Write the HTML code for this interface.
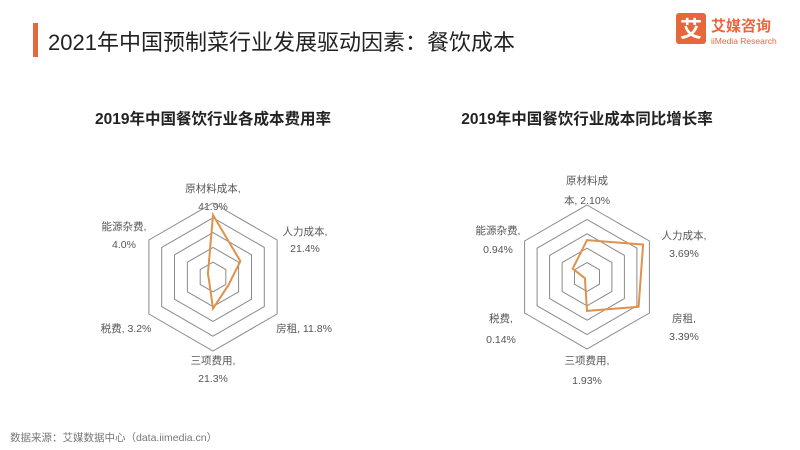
<!DOCTYPE html>
<html><head><meta charset="utf-8"><style>
html,body{margin:0;padding:0;background:#fff;}
body{width:800px;height:450px;overflow:hidden;position:relative;font-family:"Liberation Sans","Noto Sans CJK SC",sans-serif;}
</style></head><body>
<svg id="s" width="800" height="450" xmlns="http://www.w3.org/2000/svg" style="position:absolute;left:0;top:0">
<rect x="33" y="23" width="5" height="34" fill="#e8673a"/>
<text x="48" y="50" font-size="22" fill="#222" font-family="Liberation Sans,Noto Sans CJK SC,sans-serif">2021年中国预制菜行业发展驱动因素：餐饮成本</text>
<rect x="676" y="13" width="30" height="31" rx="3" fill="#e8673a"/>
<text x="691" y="37" font-size="22" font-weight="bold" fill="#fff" text-anchor="middle" font-family="Noto Sans CJK SC,sans-serif">艾</text>
<text x="711" y="31" font-size="15" font-weight="bold" fill="#e8673a" font-family="Noto Sans CJK SC,sans-serif">艾媒咨询</text>
<text x="711" y="44" font-size="8.5" fill="#e8673a" font-family="Liberation Sans,sans-serif">iiMedia Research</text>
<text x="213" y="124" font-size="15.5" font-weight="bold" fill="#222" text-anchor="middle" font-family="Liberation Sans,Noto Sans CJK SC,sans-serif">2019年中国餐饮行业各成本费用率</text>
<text x="587" y="124" font-size="15.5" font-weight="bold" fill="#222" text-anchor="middle" font-family="Liberation Sans,Noto Sans CJK SC,sans-serif">2019年中国餐饮行业成本同比增长率</text>
<g id="g" font-size="10.5" fill="#555" text-anchor="middle" font-family="Liberation Sans,Noto Sans CJK SC,sans-serif">
<text x="213" y="192">原材料成本,</text><text x="213" y="210">41.9%</text>
<text x="305" y="235">人力成本,</text><text x="305" y="252">21.4%</text>
<text x="304" y="332">房租, 11.8%</text>
<text x="213" y="364">三项费用,</text><text x="213" y="382">21.3%</text>
<text x="126" y="332">税费, 3.2%</text>
<text x="124" y="230">能源杂费,</text><text x="124" y="248">4.0%</text>
<text x="587" y="184">原材料成</text><text x="587" y="204">本, 2.10%</text>
<text x="684" y="239">人力成本,</text><text x="684" y="257">3.69%</text>
<text x="684" y="322">房租,</text><text x="684" y="340">3.39%</text>
<text x="587" y="364">三项费用,</text><text x="587" y="384">1.93%</text>
<text x="501" y="322">税费,</text><text x="501" y="343">0.14%</text>
<text x="498" y="234">能源杂费,</text><text x="498" y="253">0.94%</text>
</g>
<text x="10" y="441" font-size="10.5" fill="#777" font-family="Liberation Sans,Noto Sans CJK SC,sans-serif">数据来源：艾媒数据中心（data.iimedia.cn）</text>
</svg>
<script>
var s=document.getElementById('s'),NS='http://www.w3.org/2000/svg';
var dirs=[[0,-1],[0.866,-0.5],[0.866,0.5],[0,1],[-0.866,0.5],[-0.866,-0.5]];
function radar(cx,cy,R,max,vals){
 for(var k=1;k<=5;k++){var r=R*k/5,p=dirs.map(function(d){return (cx+d[0]*r).toFixed(1)+','+(cy+d[1]*r).toFixed(1)}).join(' ');
  var e=document.createElementNS(NS,'polygon');e.setAttribute('points',p);e.setAttribute('fill','none');e.setAttribute('stroke','#8a8a8a');e.setAttribute('stroke-width','1');s.appendChild(e);}
 var p=vals.map(function(v,i){var r=R*v/max;return (cx+dirs[i][0]*r).toFixed(1)+','+(cy+dirs[i][1]*r).toFixed(1)}).join(' ');
 var e=document.createElementNS(NS,'polygon');e.setAttribute('points',p);e.setAttribute('fill','none');e.setAttribute('stroke','#e0914a');e.setAttribute('stroke-width','2');s.appendChild(e);
}
radar(213,277,74,50,[41.9,21.4,11.8,21.3,3.2,4.0]);
radar(587,277,72,4.1,[2.10,3.69,3.39,1.93,0.14,0.94]);
</script>
</body></html>
